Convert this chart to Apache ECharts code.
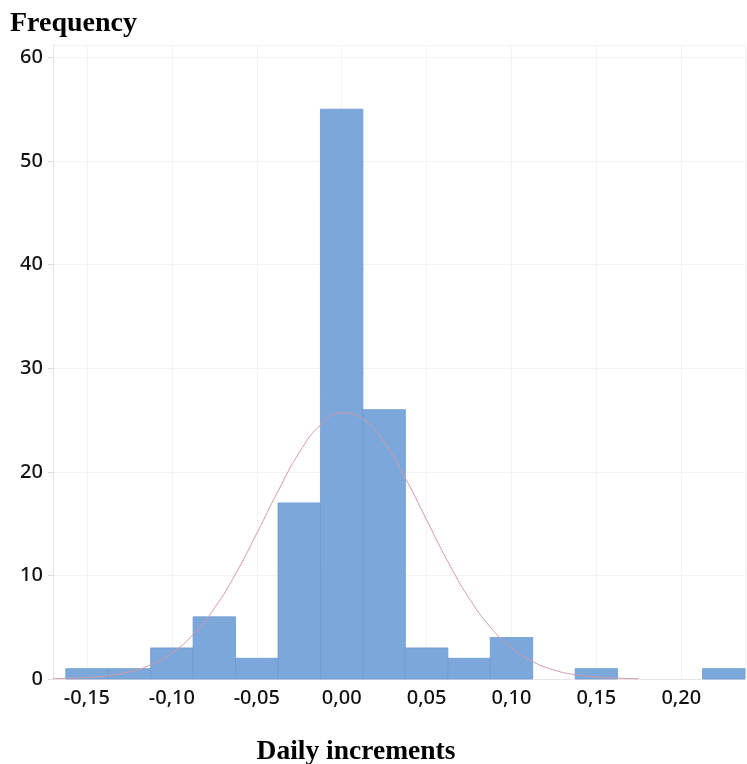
<!DOCTYPE html>
<html>
<head>
<meta charset="utf-8">
<script src="https://cdn.jsdelivr.net/npm/echarts@6/dist/echarts.min.js"></script>
<style>
html,body{margin:0;padding:0;background:#fff;}
#chart{width:747px;height:764px;}
</style>
</head>
<body>
<div id="chart"></div>
<script>
// Histogram bin centers (daily increments) and frequencies
const binCenters = [-0.15, -0.125, -0.10, -0.075, -0.05, -0.025, 0.0, 0.025, 0.05, 0.075, 0.10, 0.125, 0.15, 0.175, 0.20, 0.225];
const frequencies = [1, 1, 3, 6, 2, 17, 55, 26, 3, 2, 4, 0, 1, 0, 0, 1];
const binWidth = 0.025;

// Fitted normal curve
const curveX = [-0.17, -0.1625, -0.15, -0.1375, -0.125, -0.1125, -0.10, -0.0875, -0.075, -0.0625, -0.05, -0.0375, -0.025, -0.0125, 0.0, 0.0125, 0.025, 0.0375, 0.05, 0.0625, 0.075, 0.0875, 0.10, 0.1125, 0.125, 0.1375, 0.15, 0.1625, 0.175];
const curveY = [0.04, 0.06, 0.15, 0.33, 0.70, 1.37, 2.51, 4.29, 6.83, 10.14, 14.05, 18.13, 21.84, 24.52, 25.68, 25.08, 22.83, 19.39, 15.36, 11.34, 7.81, 5.02, 3.01, 1.68, 0.87, 0.42, 0.19, 0.08, 0.03];

const yTicks = [0, 10, 20, 30, 40, 50, 60];

const chart = echarts.init(document.getElementById('chart'));
const fmt = v => v.toFixed(2).replace('.', ',');

chart.setOption({
  animation: false,
  backgroundColor: '#ffffff',
  grid: {left: 53, right: 2, top: 45, bottom: 85},
  title: [
    {text: 'Frequency', left: 5, top: 5,
     textStyle: {fontFamily: 'Liberation Serif', fontWeight: 'bold', fontSize: 28, color: '#000'}},
    {text: 'Daily increments', left: 351, textAlign: 'center', top: 733,
     textStyle: {fontFamily: 'Liberation Serif', fontWeight: 'bold', fontSize: 27.5, color: '#000'}}
  ],
  xAxis: {
    type: 'value', min: -0.17, max: 0.2375, splitNumber: 8,
    axisLine: {show: true, onZero: false, lineStyle: {color: '#e6e6e6'}},
    axisTick: {show: false},
    axisLabel: {showMinLabel: false, showMaxLabel: false, formatter: fmt, margin: 9,
      fontFamily: 'Noto Sans', fontWeight: 500, fontSize: 20, color: '#111'},
    splitLine: {show: true, lineStyle: {color: '#f3f3f3'}}
  },
  yAxis: {
    type: 'value', min: 0, max: 61.2, interval: 10,
    axisLine: {show: true, onZero: false, lineStyle: {color: '#e6e6e6'}},
    axisTick: {show: true, length: 5, lineStyle: {color: '#dddddd'}},
    axisLabel: {showMaxLabel: false, margin: 10, fontFamily: 'Noto Sans', fontWeight: 500, fontSize: 20, color: '#111',
      formatter: v => (yTicks.indexOf(v) >= 0 ? String(v) : '')},
    splitLine: {show: true, lineStyle: {color: '#f3f3f3'}}
  },
  series: [
    {
      type: 'custom',
      data: binCenters.map((c, i) => [c, frequencies[i]]),
      renderItem: function (params, api) {
        const c = api.value(0), f = api.value(1);
        if (f <= 0) return null;
        const p0 = api.coord([c - binWidth / 2, f]);
        const p1 = api.coord([c + binWidth / 2, 0]);
        return {
          type: 'rect',
          shape: {x: p0[0], y: p0[1], width: p1[0] - p0[0], height: p1[1] - p0[1]},
          style: {fill: '#7ba7da', stroke: '#6f9bd0', lineWidth: 0.8}
        };
      },
      encode: {x: 0, y: 1},
      z: 2
    },
    {
      type: 'line',
      data: curveX.map((x, i) => [x, curveY[i]]),
      smooth: true,
      showSymbol: false,
      lineStyle: {color: '#d59aa6', width: 1},
      z: 3
    }
  ]
});
</script>
</body>
</html>
